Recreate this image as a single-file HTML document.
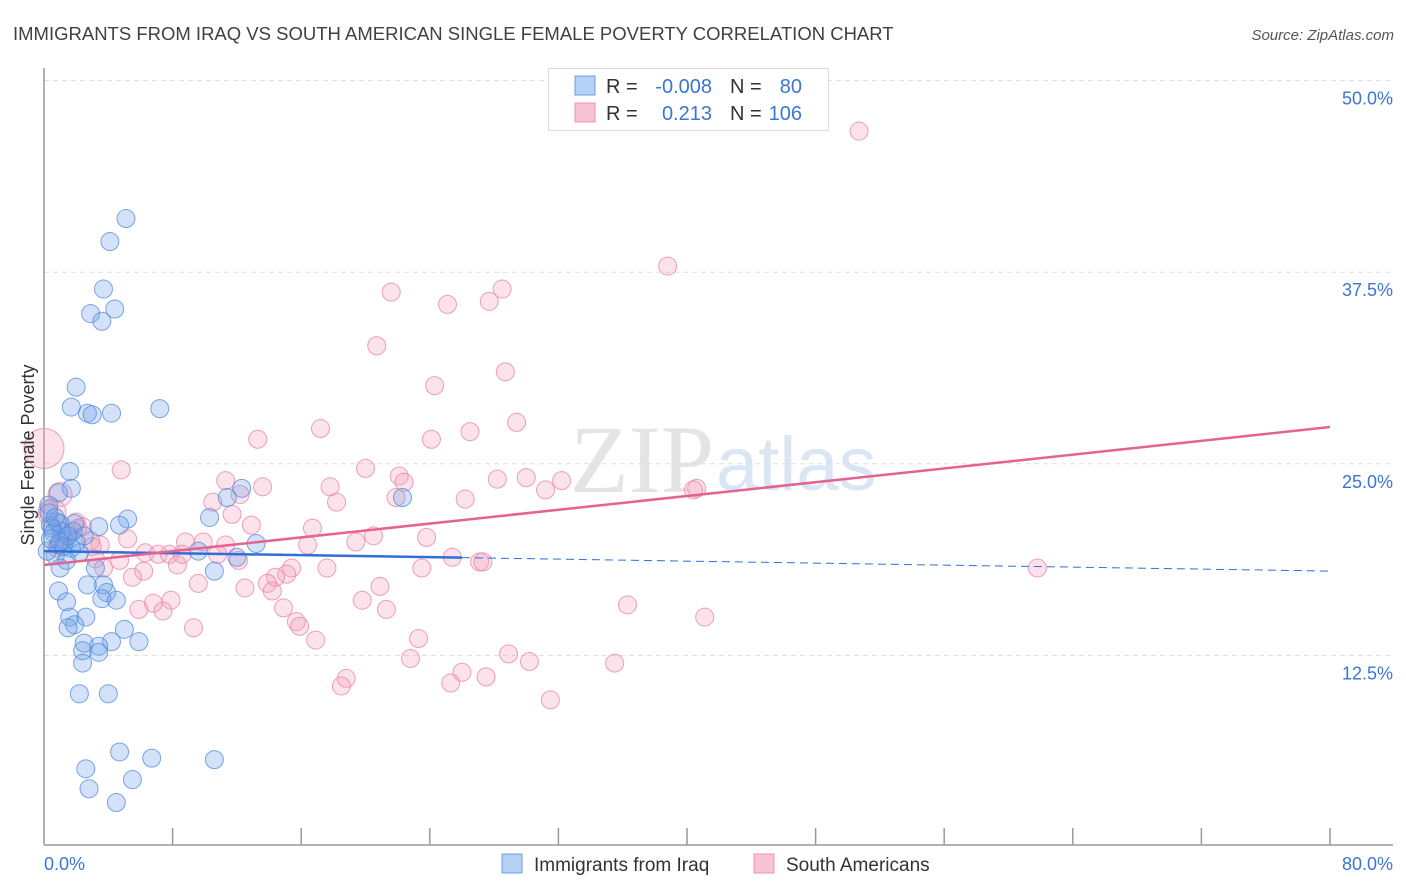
<!DOCTYPE html>
<html><head><meta charset="utf-8"><style>
body{margin:0;background:#fff;font-family:"Liberation Sans",sans-serif;}
</style></head><body>
<svg id="c" width="1406" height="892" xmlns="http://www.w3.org/2000/svg" style="display:block">
<text x="13" y="40" font-size="18.5" fill="#404040">IMMIGRANTS FROM IRAQ VS SOUTH AMERICAN SINGLE FEMALE POVERTY CORRELATION CHART</text>
<text x="1394" y="40" font-size="15" fill="#555" font-style="italic" text-anchor="end">Source: ZipAtlas.com</text>
<text x="714" y="492" font-size="96" fill="#e4e4e4" text-anchor="end" font-family="Liberation Serif">ZIP</text>
<text x="716" y="490" font-size="76" fill="#dbe6f5">atlas</text>
<g id="grid"></g>
<g id="axes"></g>
<g id="pts"></g>
<g id="trend"></g>
<text transform="translate(34,455) rotate(-90)" font-size="18" fill="#333" text-anchor="middle">Single Female Poverty</text>
<g>
<rect x="548.5" y="68.5" width="280" height="62" fill="#fff" stroke="#ddd"/>
<rect x="575" y="76" width="20" height="19" fill="#b5d0f5" stroke="#6d9de6"/>
<rect x="575" y="103" width="20" height="19" fill="#f8c3d4" stroke="#ea93b0"/>
<text x="606" y="93" font-size="20" fill="#333">R = </text>
<text x="712" y="93" font-size="20" fill="#3a76d4" text-anchor="end">-0.008</text>
<text x="730" y="93" font-size="20" fill="#333">N = </text>
<text x="802" y="93" font-size="20" fill="#3a76d4" text-anchor="end">80</text>
<text x="606" y="120" font-size="20" fill="#333">R = </text>
<text x="712" y="120" font-size="20" fill="#3a76d4" text-anchor="end">0.213</text>
<text x="730" y="120" font-size="20" fill="#333">N = </text>
<text x="802" y="120" font-size="20" fill="#3a76d4" text-anchor="end">106</text>
</g>
<g>
<rect x="502" y="854" width="20" height="19" fill="#b5d0f5" stroke="#6d9de6"/>
<text x="534" y="871" font-size="19" fill="#333">Immigrants from Iraq</text>
<rect x="754" y="854" width="20" height="19" fill="#f8c3d4" stroke="#ea93b0"/>
<text x="786" y="871" font-size="19" fill="#333">South Americans</text>
</g>
</svg>
<script>
const yTicks=[12.5,25.0,37.5,50.0];
const xTickCount=10;
const xMin=0,xMax=80,yMin=0,yMax=50;
const blueX=[5.1,4.1,3.7,2.9,4.4,3.6,2.0,1.7,2.7,3.0,4.2,7.2,1.6,1.7,0.9,0.3,12.3,11.4,22.3,10.3,5.2,4.7,3.4,1.9,1.0,0.4,1.1,2.5,1.3,0.9,1.7,0.7,1.4,13.2,9.6,12.0,1.0,10.6,3.2,2.7,3.7,3.9,3.6,4.5,0.9,1.4,1.6,2.6,1.9,1.5,5.0,2.5,4.2,5.9,3.4,2.4,3.4,2.4,2.2,4.0,4.7,6.7,10.6,2.6,5.5,2.8,4.5,0.5,0.8,1.2,0.3,0.6,2.0,1.5,0.2,0.7,1.8,2.2,0.4,1.0];
const blueY=[41.0,39.5,36.4,34.8,35.1,34.3,30.0,28.7,28.3,28.2,28.3,28.6,24.5,23.4,23.1,22.3,23.4,22.8,22.8,21.5,21.4,21.0,20.9,21.1,21.1,21.0,20.6,20.3,20.0,19.7,19.5,19.0,18.7,19.8,19.3,18.9,18.2,18.0,18.2,17.1,17.1,16.6,16.2,16.1,16.7,16.0,15.0,15.0,14.5,14.3,14.2,13.3,13.4,13.4,13.1,12.8,12.7,12.0,10.0,10.0,6.2,5.8,5.7,5.1,4.4,3.8,2.9,20.8,21.2,19.6,21.8,20.5,19.9,20.3,19.3,21.5,20.6,19.2,20.1,19.9];
const pinkX=[50.7,38.8,21.6,25.1,27.7,28.5,20.7,28.7,24.3,17.2,26.5,29.4,13.3,24.1,4.8,20.0,11.3,22.1,22.4,28.2,30.0,32.2,13.6,17.8,40.6,40.4,31.2,12.2,21.9,26.2,10.5,18.2,1.0,11.7,12.9,16.7,20.5,23.8,2.1,8.8,9.9,5.2,11.3,19.4,16.4,2.9,3.5,6.3,7.1,7.8,8.6,10.8,3.2,4.7,3.7,8.3,12.1,25.4,27.1,27.3,61.8,6.2,15.4,17.6,23.5,5.5,15.1,14.4,9.6,13.9,20.9,12.5,14.2,7.9,6.8,19.8,36.3,14.9,5.9,21.3,7.4,41.1,15.7,15.9,9.3,16.9,23.3,22.8,28.9,30.2,35.5,26.0,18.8,27.5,18.5,25.3,31.5,0.0,0.5,1.5,2.4,0.8,2.0,1.2,3.0,0.3];
const pinkY=[46.7,37.9,36.2,35.4,35.6,36.4,32.7,31.0,30.1,27.3,27.1,27.7,26.6,26.6,24.6,24.7,23.9,24.2,23.8,24.0,24.1,23.9,23.5,23.5,23.4,23.3,23.3,23.0,22.8,22.7,22.5,22.5,23.0,21.7,21.0,20.8,20.3,20.2,20.8,19.9,19.9,20.1,19.7,19.9,19.7,20.0,19.7,19.2,19.1,19.1,19.1,19.1,18.8,18.7,18.2,18.4,18.7,18.9,18.6,18.6,18.2,18.0,18.2,18.2,18.2,17.6,17.8,17.6,17.2,17.2,17.0,16.9,16.7,16.1,15.9,16.1,15.8,15.6,15.5,15.5,15.4,15.0,14.7,14.4,14.3,13.5,13.6,12.3,12.6,12.1,12.0,11.4,11.0,11.1,10.5,10.7,9.6,26.0,21.8,20.5,20.9,19.5,21.2,20.0,19.6,22.0];
const pinkR=[9,9,9,9,9,9,9,9,9,9,9,9,9,9,9,9,9,9,9,9,9,9,9,9,9,9,9,9,9,9,9,9,12,9,9,9,9,9,9,9,9,9,9,9,9,9,9,9,9,9,9,9,9,9,9,9,9,9,9,9,9,9,9,9,9,9,9,9,9,9,9,9,9,9,9,9,9,9,9,9,9,9,9,9,9,9,9,9,9,9,9,9,9,9,9,9,9,20,14,9,9,9,9,9,9,9];
const blueTrend=[19.3,18.0];
const blueSolidEnd=26;
const pinkTrend=[18.4,27.4];
const X0=44,X1=1330,Y0=847,Y1=80.6;
const sx=v=>X0+(v-xMin)/(xMax-xMin)*(X1-X0);
const sy=v=>Y0-(v-yMin)/(yMax-yMin)*(Y0-Y1);
const NS="http://www.w3.org/2000/svg";
function mk(tag,attrs,parent){const e=document.createElementNS(NS,tag);for(const k in attrs)e.setAttribute(k,attrs[k]);parent.appendChild(e);return e;}
const grid=document.getElementById('grid'),axes=document.getElementById('axes'),pts=document.getElementById('pts'),trend=document.getElementById('trend');
yTicks.forEach(t=>{
 const l=mk('line',{x1:X0,x2:1393,y1:sy(t),y2:sy(t),stroke:'#ddd','stroke-dasharray':'5,4'},grid);
 
 
 const tx=mk('text',{x:1393,y:sy(t)+24,'font-size':18,fill:'#3a76d4','text-anchor':'end'},grid);
 tx.textContent=t.toFixed(1)+'%';
 
 
});
const ya=mk('line',{x1:X0,x2:X0,y1:68,y2:845,stroke:'#999','stroke-width':1.5},axes);


const xa=mk('line',{x1:X0,x2:1393,y1:845,y2:845,stroke:'#999','stroke-width':1.5},axes);


for(let i=1;i<=xTickCount;i++){
 const v=xMin+(xMax-xMin)*i/xTickCount;
 const tk=mk('line',{x1:sx(v),x2:sx(v),y1:828,y2:845,stroke:'#999','stroke-width':1.5},axes);
 
 
}
const xl0=mk('text',{x:44,y:870,'font-size':18,fill:'#3a76d4'},axes);
xl0.textContent=xMin.toFixed(1)+'%';


const xl1=mk('text',{x:1393,y:870,'font-size':18,fill:'#3a76d4','text-anchor':'end'},axes);
xl1.textContent=xMax.toFixed(1)+'%';


pinkX.forEach((x,i)=>{
 const c=mk('circle',{cx:sx(x),cy:sy(pinkY[i]),r:pinkR[i],fill:'rgba(243,160,188,0.3)',stroke:'rgba(232,130,165,0.75)','stroke-width':1},pts);
 
 
});
blueX.forEach((x,i)=>{
 const c=mk('circle',{cx:sx(x),cy:sy(blueY[i]),r:9,fill:'rgba(110,160,232,0.3)',stroke:'rgba(80,138,222,0.75)','stroke-width':1},pts);
 
 
});
const bAt=v=>blueTrend[0]+(blueTrend[1]-blueTrend[0])*(v-xMin)/(xMax-xMin);
const b1=mk('line',{x1:sx(xMin),y1:sy(bAt(xMin)),x2:sx(blueSolidEnd),y2:sy(bAt(blueSolidEnd)),stroke:'#2f6fd6','stroke-width':2.5},trend);


const b2=mk('line',{x1:sx(blueSolidEnd),y1:sy(bAt(blueSolidEnd)),x2:sx(xMax),y2:sy(bAt(xMax)),stroke:'#2f6fd6','stroke-width':1,'stroke-dasharray':'8,5'},trend);


const p1=mk('line',{x1:sx(xMin),y1:sy(pinkTrend[0]),x2:sx(xMax),y2:sy(pinkTrend[1]),stroke:'#e4638f','stroke-width':2.5},trend);


</script>
</body></html>
